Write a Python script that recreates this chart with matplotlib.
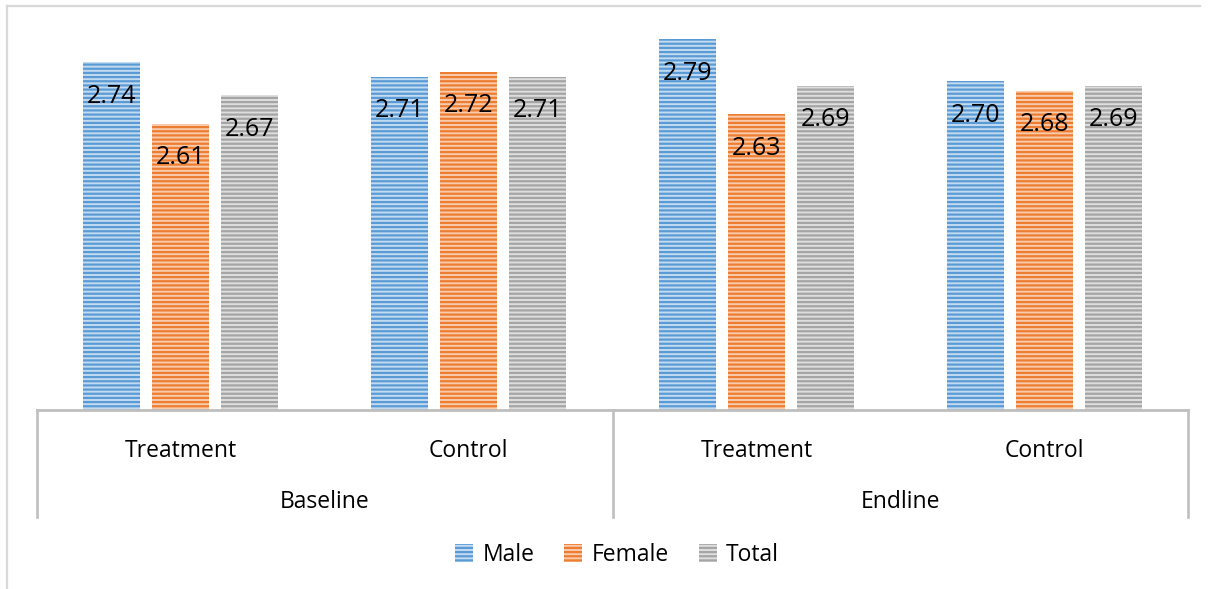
import matplotlib
matplotlib.use("Agg")
import matplotlib.pyplot as plt
import matplotlib.transforms as mtransforms
from matplotlib.lines import Line2D
import numpy as np

# Survey scores by round, arm and sex
rounds = ["Baseline", "Endline"]
arms = ["Treatment", "Control", "Treatment", "Control"]
male = [2.74, 2.71, 2.79, 2.70]
female = [2.61, 2.72, 2.63, 2.68]
total = [2.67, 2.71, 2.69, 2.69]

series = [("Male", male, "#5B9BD5", "#C3DBF1"),
          ("Female", female, "#ED7D31", "#F8CBAD"),
          ("Total", total, "#A5A5A5", "#DEDEDE")]

plt.rcParams["font.family"] = ["Open Sans", "DejaVu Sans"]
plt.rcParams["hatch.linewidth"] = 1.6

W, H = 1214, 589
fig = plt.figure(figsize=(W / 100, H / 100), dpi=100)
ax = fig.add_axes([37 / W, 1 - 410 / H, (1188 - 37) / W, (410 - 34.3) / H])

x = np.arange(len(arms))
width = 0.198
offsets = [-0.24, 0.0, 0.24]

for (name, vals, col, light), off in zip(series, offsets):
    bars = ax.bar(x + off, vals, width, color=light, edgecolor=col,
                  linewidth=0, hatch="----", label=name)
    for b, v in zip(bars, vals):
        ax.annotate(f"{v:.2f}", (b.get_x() + b.get_width() / 2, v),
                    xytext=(0, -24.5), textcoords="offset points",
                    ha="center", va="center", fontsize=18, color="#000000")

# Value axis starts at 2.0, so bars are cut at the category axis
ax.set_ylim(2.0, 2.8)
ax.set_xlim(-0.5, 3.5)

for side in ["top", "right", "left"]:
    ax.spines[side].set_visible(False)
ax.spines["bottom"].set_color("#BFBFBF")
ax.spines["bottom"].set_linewidth(2.0)
ax.set_yticks([])
ax.set_xticks([])

# Two-level category axis
tr = mtransforms.blended_transform_factory(ax.transData, fig.transFigure)
for xs in [-0.5, 1.5, 3.5]:
    fig.add_artist(Line2D([xs, xs], [1 - 410 / H, 1 - 517 / H], transform=tr,
                          color="#BFBFBF", linewidth=1.9))
for xi, lab in zip(x, arms):
    fig.text(xi, 1 - 451 / H, lab, transform=tr, ha="center", va="center",
             fontsize=16.5, color="#000000")
for xi, lab in zip([0.5, 2.5], rounds):
    fig.text(xi, 1 - 502 / H, lab, transform=tr, ha="center", va="center",
             fontsize=16.5, color="#000000")

# Chart frame (top and left edges)
fig.add_artist(Line2D([7 / W, 1200 / W], [1 - 6 / H, 1 - 6 / H],
                      transform=fig.transFigure, color="#D9D9D9", linewidth=1.6))
fig.add_artist(Line2D([7 / W, 7 / W], [1 - 6 / H, 0],
                      transform=fig.transFigure, color="#D9D9D9", linewidth=1.6))

fig.legend(loc="center", bbox_to_anchor=(617 / W, 1 - 555 / H), ncol=3,
           frameon=False, fontsize=16.5, handlelength=0.8, handleheight=0.8,
           handletextpad=0.4, columnspacing=1.3)

fig.savefig("out.png", dpi=100)
